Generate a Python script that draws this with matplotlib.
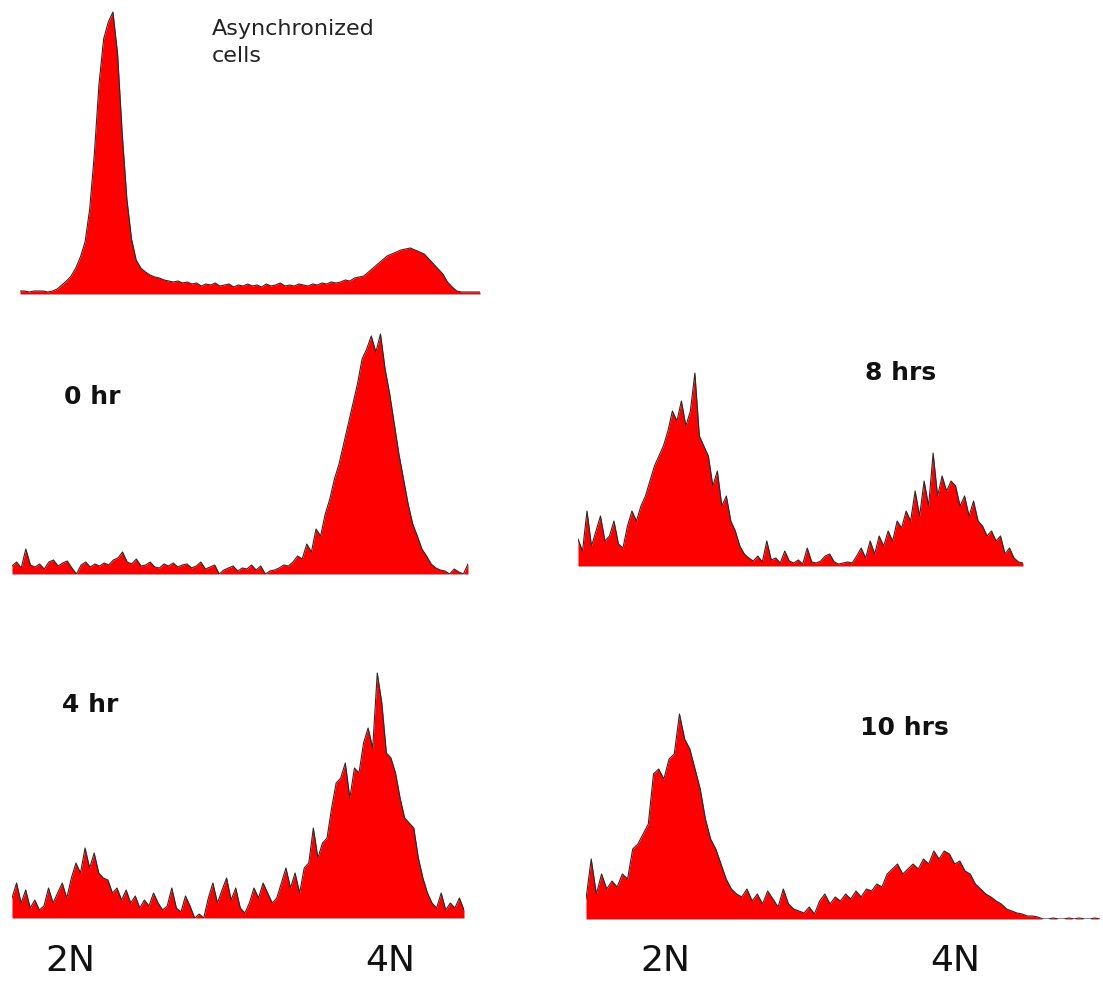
import numpy as np
import matplotlib
matplotlib.use('Agg')
import matplotlib.pyplot as plt

# DNA content histograms, counts per channel bin
async_counts = [3, 3, 2, 3, 3, 3, 2, 3, 5, 9,
                13, 18, 26, 37, 52, 85, 140, 210, 255, 272,
                282, 240, 160, 95, 55, 34, 26, 22, 19, 17,
                16, 14, 13, 12, 13, 11, 12, 10, 11, 8,
                10, 9, 11, 8, 9, 10, 7, 9, 8, 10,
                8, 9, 7, 10, 8, 9, 11, 8, 9, 8,
                10, 9, 8, 10, 9, 11, 10, 12, 11, 12,
                14, 13, 16, 17, 18, 22, 26, 30, 34, 38,
                40, 42, 44, 45, 46, 44, 42, 40, 35, 30,
                25, 20, 12, 7, 3, 2, 2, 2, 2, 2]

hr0_counts = [8, 12, 6, 25, 9, 7, 10, 5, 12, 14,
              8, 11, 13, 6, 0, 9, 12, 7, 10, 8,
              11, 9, 14, 16, 22, 12, 10, 15, 8, 9,
              12, 7, 6, 10, 8, 11, 7, 9, 10, 6,
              8, 12, 5, 7, 9, 0, 4, 6, 8, 3,
              6, 5, 9, 4, 8, 0, 3, 4, 6, 9,
              8, 12, 18, 15, 30, 22, 45, 38, 60, 75,
              95, 110, 130, 150, 170, 190, 215, 225, 238, 222,
              240, 205, 180, 150, 120, 95, 70, 50, 38, 25,
              18, 10, 6, 4, 3, 0, 5, 2, 0, 10]

hr8_counts = [27, 15, 55, 20, 35, 50, 25, 30, 45, 22,
              18, 40, 55, 45, 60, 70, 85, 100, 110, 120,
              135, 155, 145, 165, 140, 155, 193, 130, 120, 110,
              80, 95, 60, 70, 45, 35, 20, 12, 8, 5,
              10, 4, 25, 6, 8, 3, 15, 5, 3, 6,
              2, 18, 4, 3, 5, 10, 12, 4, 2, 3,
              4, 3, 10, 18, 8, 25, 12, 30, 20, 35,
              25, 45, 38, 55, 45, 75, 50, 85, 60, 113,
              70, 90, 75, 85, 80, 60, 70, 50, 65, 45,
              40, 30, 35, 25, 30, 12, 18, 8, 4, 3]

hr4_counts = [20, 35, 15, 28, 10, 18, 8, 12, 30, 15,
              25, 35, 20, 40, 55, 45, 70, 50, 65, 45,
              40, 38, 25, 30, 18, 28, 15, 22, 10, 18,
              12, 25, 15, 8, 12, 30, 10, 6, 22, 12,
              0, 4, 0, 20, 35, 15, 28, 40, 18, 30,
              10, 5, 15, 30, 20, 35, 25, 15, 20, 35,
              50, 30, 45, 25, 50, 55, 90, 60, 75, 80,
              110, 135, 140, 155, 120, 150, 145, 175, 190, 170,
              245, 215, 165, 160, 145, 120, 100, 95, 90, 60,
              40, 25, 15, 10, 25, 8, 15, 10, 20, 8]

hr10_counts = [20, 60, 25, 45, 30, 38, 32, 45, 40, 70,
               75, 85, 95, 145, 150, 140, 160, 165, 205, 180,
               170, 150, 130, 100, 80, 70, 55, 40, 30, 25,
               22, 30, 18, 25, 15, 28, 20, 12, 30, 15,
               10, 8, 6, 12, 5, 18, 25, 15, 22, 18,
               25, 20, 28, 22, 30, 28, 35, 32, 45, 50,
               55, 45, 50, 55, 50, 60, 55, 68, 60, 68,
               65, 55, 58, 48, 45, 35, 30, 25, 22, 18,
               15, 10, 8, 6, 5, 3, 3, 2, 0, 0,
               1, 0, 0, 1, 0, 1, 0, 0, 1, 0]

W, H = 1103, 983
fig = plt.figure(figsize=(W / 100, H / 100), dpi=100)

# panel boxes in pixels: left, right, baseline, top
panels = [
    (async_counts, 20, 480, 294, 10),
    (hr0_counts, 12, 468, 574, 332),
    (hr8_counts, 578, 1023, 566, 370),
    (hr4_counts, 12, 464, 918, 670),
    (hr10_counts, 586, 1100, 919, 712),
]

for counts, left, right, base, top in panels:
    ax = fig.add_axes([left / W, 1 - base / H, (right - left) / W, (base - top) / H])
    y = np.array(counts)
    x = np.arange(len(y))
    ax.fill_between(x, y, color='#ff0000', lw=0)
    ax.plot(x, y, color='#2a2a2a', lw=0.8)
    ax.set_xlim(0, len(y) - 1)
    ax.set_ylim(0, base - top)
    ax.axis('off')

fig.text(212 / W, 1 - 62 / H, 'Asynchronized\ncells', fontsize=16,
         family='DejaVu Sans', va='baseline', ha='left', linespacing=1.45,
         color='#222222')

for label, xp, yp in [('0 hr', 64, 397), ('4 hr', 62, 705),
                      ('8 hrs', 865, 373), ('10 hrs', 860, 728)]:
    fig.text(xp / W, 1 - yp / H, label, fontsize=18, fontweight='bold',
             family='DejaVu Sans', va='center', ha='left', color='#111111')

for label, xp in [('2N', 70), ('4N', 390), ('2N', 665), ('4N', 955)]:
    fig.text(xp / W, 1 - 961 / H, label, fontsize=26,
             family='DejaVu Sans', va='center', ha='center', color='#111111')

plt.savefig('out.png', dpi=100)
